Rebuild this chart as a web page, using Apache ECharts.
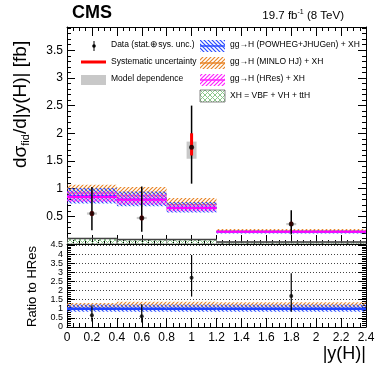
<!DOCTYPE html>
<html><head><meta charset="utf-8">
<script src="https://cdn.jsdelivr.net/npm/echarts@6/dist/echarts.min.js"></script>
<style>html,body{margin:0;padding:0;background:#fff}#c{width:382px;height:375px}</style>
</head><body><div id="c"></div>
<script>
// ---- data ----
const binEdges = [0, 0.4, 0.8, 1.2, 2.4];
const xTicks = [0, 0.2, 0.4, 0.6, 0.8, 1, 1.2, 1.4, 1.6, 1.8, 2, 2.2, 2.4];
const dataX = [0.2, 0.6, 1.0, 1.8];
const dataY = [0.55, 0.47, 1.75, 0.36];
const dataLo = [0.25, 0.22, 1.09, 0.17];
const dataHi = [1.03, 1.04, 2.50, 0.61];
const sysLo = [0.51, 0.43, 1.60, 0.33];
const sysHi = [0.59, 0.51, 2.00, 0.40];
const modelLo = [0.53, 0.45, 1.54, 0.34];
const modelHi = [0.57, 0.49, 1.85, 0.38];
const powhegLo = [0.73, 0.68, 0.57, 0.19];
const powhegHi = [1.01, 0.95, 0.76, 0.25];
const powhegC = [0.87, 0.81, 0.66, 0.22];
const minloLo = [0.78, 0.73, 0.60, 0.20];
const minloHi = [1.07, 1.03, 0.83, 0.27];
const minloC = [0.92, 0.87, 0.71, 0.235];
const hresLo = [0.76, 0.71, 0.59, 0.20];
const hresHi = [0.95, 0.90, 0.72, 0.245];
const hresC = [0.85, 0.80, 0.65, 0.22];
const xhVal = [0.10, 0.08, 0.08, 0.035];
const ratioY = [0.65, 0.59, 2.70, 1.70];
const ratioLo = [0.30, 0.25, 1.67, 0.84];
const ratioHi = [1.20, 1.25, 3.95, 2.95];
const rPowhegLo = [0.84, 0.84, 0.84, 0.84];
const rPowhegHi = [1.24, 1.24, 1.24, 1.24];
const rMinloLo = [1.05, 1.08, 1.08, 1.08];
const rMinloHi = [1.32, 1.38, 1.38, 1.36];
const rHres = [1, 1, 1, 1];

// ---- patterns ----
function hatch(color, dir, cross, size, lw) {
  const s = size || 4;
  const c = document.createElement('canvas'); c.width = s; c.height = s;
  const g = c.getContext('2d'); g.strokeStyle = color; g.lineWidth = lw || 1.2;
  const draw = (d) => { g.beginPath();
    if (d > 0) { g.moveTo(-1, s + 1); g.lineTo(s + 1, -1); g.moveTo(-1, 1); g.lineTo(1, -1); g.moveTo(s - 1, s + 1); g.lineTo(s + 1, s - 1); }
    else { g.moveTo(-1, -1); g.lineTo(s + 1, s + 1); g.moveTo(s - 1, -1); g.lineTo(s + 1, 1); g.moveTo(-1, s - 1); g.lineTo(1, s + 1); }
    g.stroke(); };
  draw(dir); if (cross) draw(-dir);
  return { image: c, repeat: 'repeat' };
}
const pBlue = hatch('#2a4cff', -1), pOrange = hatch('#e8862a', 1), pMag = hatch('#ff20ff', 1), pGreen = hatch('#8cc88c', 1, true, 5, 1);

const FONT = 'Liberation Sans';
const chart = echarts.init(document.getElementById('c'), null, { renderer: 'canvas' });

function binRows(lo, hi, c) { return lo.map((v, i) => [binEdges[i], binEdges[i + 1], v, hi[i], c ? c[i] : null]); }
function bandSeries(xi, rows, fill, stroke, lw, z, border) {
  return { type: 'custom', xAxisIndex: xi, yAxisIndex: xi * 2, z: z, data: rows, clip: true,
    renderItem: (p, api) => {
      const a = api.coord([api.value(0), api.value(3)]), b = api.coord([api.value(1), api.value(2)]);
      const ch = [{ type: 'rect', shape: { x: a[0], y: a[1], width: b[0] - a[0], height: b[1] - a[1] },
        style: { fill: fill, stroke: border || null, lineWidth: 1 } }];
      const cv = api.value(4);
      if (cv !== null && !isNaN(cv) && stroke) {
        const m = api.coord([api.value(0), cv]), n = api.coord([api.value(1), cv]);
        ch.push({ type: 'line', shape: { x1: m[0], y1: m[1], x2: n[0], y2: n[1] }, style: { stroke: stroke, lineWidth: lw } });
      }
      return { type: 'group', children: ch };
    } };
}
function errSeries(xi, xs, lo, hi, color, lw, z) {
  return { type: 'custom', xAxisIndex: xi, yAxisIndex: xi * 2, z: z, data: xs.map((x, i) => [x, lo[i], hi[i]]),
    renderItem: (p, api) => {
      const a = api.coord([api.value(0), api.value(1)]), b = api.coord([api.value(0), api.value(2)]);
      return { type: 'line', shape: { x1: a[0], y1: a[1], x2: b[0], y2: b[1] }, style: { stroke: color, lineWidth: lw } };
    } };
}
function boxSeries(xi, xs, lo, hi, halfW, color, z) {
  return { type: 'custom', xAxisIndex: xi, yAxisIndex: xi * 2, z: z, data: xs.map((x, i) => [x, lo[i], hi[i]]),
    renderItem: (p, api) => {
      const a = api.coord([api.value(0) - halfW, api.value(2)]), b = api.coord([api.value(0) + halfW, api.value(1)]);
      return { type: 'rect', shape: { x: a[0], y: a[1], width: b[0] - a[0], height: b[1] - a[1] }, style: { fill: color } };
    } };
}

const tickX = { show: true, inside: true, length: 9, lineStyle: { color: '#000' } };
const minorX = { show: true, splitNumber: 4, length: 4, lineStyle: { color: '#000' } };
function xAx(gi, pos, labels) {
  return { type: 'value', gridIndex: gi, position: pos, min: 0, max: 2.4, interval: 0.2,
    axisLine: { show: true, onZero: false, lineStyle: { color: '#000', width: 1 } },
    axisTick: tickX, minorTick: minorX, splitLine: { show: false },
    axisLabel: { show: labels, color: '#000', fontFamily: FONT, fontSize: 12, margin: 5,
      formatter: v => (Math.round(v * 10) / 10).toString() } };
}
function yAx(gi, pos, min, max, labels, fs, grid) {
  return { type: 'value', gridIndex: gi, position: pos, min: min, max: max, interval: 0.5,
    axisLine: { show: true, onZero: false, lineStyle: { color: '#000', width: 1 } },
    axisTick: { show: true, inside: true, length: 8, lineStyle: { color: '#000' } },
    minorTick: { show: true, splitNumber: 5, length: 4, lineStyle: { color: '#000' } },
    splitLine: { show: !!grid, lineStyle: { color: '#444', type: [1, 2], width: 1 } },
    axisLabel: { show: labels, color: '#000', fontFamily: FONT, fontSize: fs, margin: 4,
      formatter: v => { if (gi === 0 && (v < 0.01 || v > 3.6)) return ''; return (Math.round(v * 10) / 10).toString(); } } };
}

const legendItems = [];
const lt = (x, y, t) => ({ type: 'text', left: x, top: y - 6, style: { text: t, font: '8.5px ' + FONT, fill: '#000' } });
legendItems.push(
  { type: 'line', shape: { x1: 94, y1: 41, x2: 94, y2: 51 }, style: { stroke: '#000', lineWidth: 1 } },
  { type: 'circle', shape: { cx: 94, cy: 46, r: 1.8 }, style: { fill: '#000' } },
  lt(111, 46, 'Data (stat.⊕sys. unc.)'),
  { type: 'line', shape: { x1: 81, y1: 62, x2: 106, y2: 62 }, style: { stroke: '#ff0000', lineWidth: 3 } },
  lt(111, 63, 'Systematic uncertainty'),
  { type: 'rect', shape: { x: 81, y: 75, width: 25, height: 10 }, style: { fill: '#c8c8c8' } },
  lt(111, 80, 'Model dependence'),
  { type: 'rect', shape: { x: 200, y: 40, width: 25, height: 12 }, style: { fill: pBlue } },
  { type: 'line', shape: { x1: 200, y1: 46, x2: 225, y2: 46 }, style: { stroke: '#2a4cff', lineWidth: 1.5 } },
  lt(230, 46, 'gg→H (POWHEG+JHUGen) + XH'),
  { type: 'rect', shape: { x: 200, y: 57, width: 25, height: 12 }, style: { fill: pOrange } },
  { type: 'line', shape: { x1: 200, y1: 63, x2: 225, y2: 63 }, style: { stroke: '#e8862a', lineWidth: 1.5 } },
  lt(230, 63, 'gg→H (MINLO HJ) + XH'),
  { type: 'rect', shape: { x: 200, y: 74, width: 25, height: 12 }, style: { fill: pMag } },
  { type: 'line', shape: { x1: 200, y1: 80, x2: 225, y2: 80 }, style: { stroke: '#ff20ff', lineWidth: 1.5 } },
  lt(230, 80, 'gg→H (HRes) + XH'),
  { type: 'rect', shape: { x: 200, y: 90, width: 25, height: 12 }, style: { fill: pGreen, stroke: '#555', lineWidth: 0.7 } },
  lt(230, 97, 'XH = VBF + VH + ttH')
);

const option = {
  animation: false,
  grid: [
    { left: 67, top: 27, width: 299, height: 217 },
    { left: 67, top: 245, width: 299, height: 82 }
  ],
  xAxis: [xAx(0, 'bottom', false), xAx(1, 'bottom', true), xAx(0, 'top', false)],
  yAxis: [yAx(0, 'left', 0, 3.92, true, 12), yAx(0, 'right', 0, 3.92, false, 12),
          yAx(1, 'left', 0, 4.5, true, 9, true), yAx(1, 'right', 0, 4.5, false, 9)],
  series: [
    // top panel
    bandSeries(0, binRows(binEdges.slice(0, 4).map(() => 0), xhVal, xhVal), pGreen, '#444', 1.5, 1, '#999'),
    bandSeries(0, binRows(minloLo, minloHi, minloC), pOrange, '#e8862a', 1, 2),
    bandSeries(0, binRows(powhegLo, powhegHi, powhegC), pBlue, '#2a4cff', 1.5, 3),
    bandSeries(0, binRows(hresLo, hresHi, hresC), pMag, '#ff00ff', 2, 4),
    boxSeries(0, dataX, modelLo, modelHi, 0.04, '#c8c8c8', 5),
    errSeries(0, dataX, dataLo, dataHi, '#000', 1.5, 6),
    errSeries(0, dataX, sysLo, sysHi, '#ff0000', 3, 7),
    { type: 'scatter', xAxisIndex: 0, yAxisIndex: 0, z: 8, symbol: 'circle', symbolSize: 5,
      itemStyle: { color: '#000' }, data: dataX.map((x, i) => [x, dataY[i]]) },
    // ratio panel
    bandSeries(1, binRows(rMinloLo, rMinloHi, null), pOrange, null, 1, 2),
    bandSeries(1, binRows(rPowhegLo, rPowhegHi, rHres), pBlue, '#2244ff', 2.5, 3),
    errSeries(1, dataX, ratioLo, ratioHi, '#000', 1.2, 6),
    { type: 'scatter', xAxisIndex: 1, yAxisIndex: 2, z: 8, symbol: 'circle', symbolSize: 4,
      itemStyle: { color: '#000' }, data: dataX.map((x, i) => [x, ratioY[i]]) }
  ],
  graphic: [
    { type: 'text', left: 72, top: 4, style: { text: 'CMS', font: 'bold 18px ' + FONT, fill: '#000' } },
    { type: 'text', right: 38, top: 9, style: { text: '{a|19.7 fb}{s|-1}{a| (8 TeV)}', rich: {
        a: { font: '11.5px ' + FONT, fill: '#000' }, s: { font: '7px ' + FONT, fill: '#000', verticalAlign: 'top', padding: [0, 0, 6, 0] } } } },
    { type: 'text', x: 10, y: 168, rotation: Math.PI / 2, style: { text: '{a|dσ}{s|fid}{a|/d|y(H)| [fb]}', rich: {
        a: { font: '19px ' + FONT, fill: '#000' }, s: { font: '11px ' + FONT, fill: '#000', padding: [10, 0, 0, 0] } } } },
    { type: 'text', x: 26, y: 327, rotation: Math.PI / 2, style: { text: 'Ratio to HRes', font: '13px ' + FONT, fill: '#000' } },
    { type: 'text', right: 16, top: 345, style: { text: '|y(H)|', font: '18px ' + FONT, fill: '#000' } }
  ].concat(legendItems)
};
chart.setOption(option);
</script></body></html>
